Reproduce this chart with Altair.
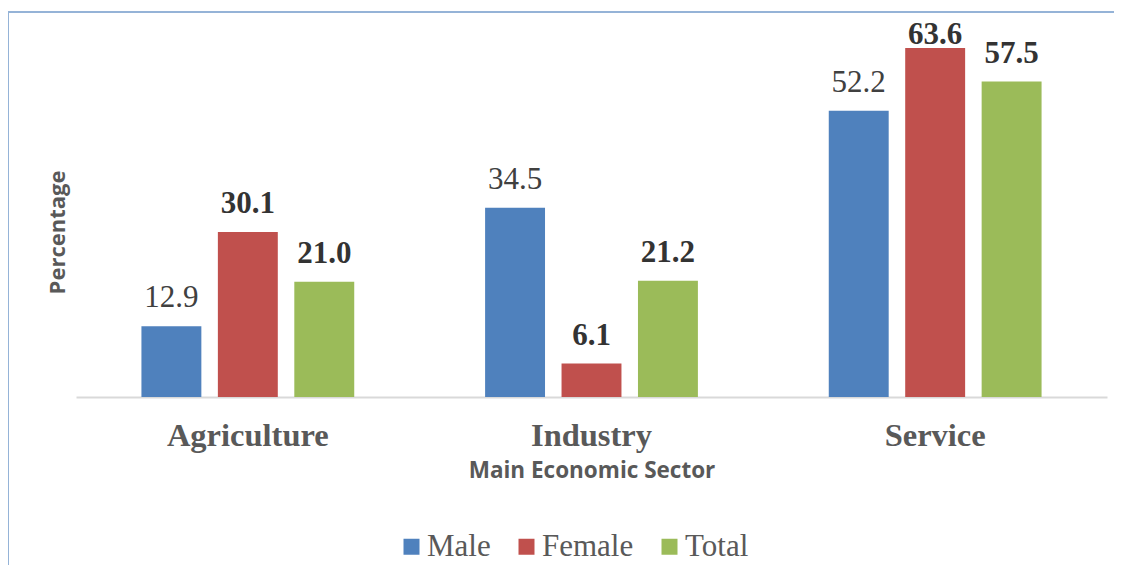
import altair as alt
import pandas as pd

sectors = ["Agriculture", "Industry", "Service"]
groups = ["Male", "Female", "Total"]
male = [12.9, 34.5, 52.2]
female = [30.1, 6.1, 63.6]
total = [21.0, 21.2, 57.5]
colors = ["#4F81BD", "#C0504D", "#9BBB59"]

rows = []
for i, s in enumerate(sectors):
    for g, vals in zip(groups, [male, female, total]):
        rows.append({"sector": s, "group": g, "value": vals[i], "label": f"{vals[i]:.1f}"})
df = pd.DataFrame(rows)

W, H = 1031, 384
SERIF = "Liberation Serif"
SANS = "Open Sans"

x = alt.X(
    "sector:N", sort=sectors,
    scale=alt.Scale(paddingInner=0, paddingOuter=0),
    axis=alt.Axis(
        title="Main Economic Sector", labelAngle=0,
        labelFont=SERIF, labelFontSize=32.5, labelFontWeight="bold",
        labelColor="#595959", labelBaseline="alphabetic", labelPadding=48,
        ticks=False, domainColor="#D9D9D9", domainWidth=2,
        titleFont=SANS, titleFontSize=22.5, titleFontWeight="bold",
        titleColor="#595959", titleX=515.5, titleY=80,
        titleBaseline="alphabetic", titleAlign="center",
    ),
)
xo = alt.XOffset("group:N", sort=groups,
                 scale=alt.Scale(paddingInner=0.216, paddingOuter=0.856))
yaxis = alt.Axis(
    title="Percentage", labels=False, ticks=False, domain=False, grid=False,
    titleFont=SANS, titleFontSize=22, titleFontWeight="bold",
    titleColor="#595959", titleX=-19, titleY=219, titleAngle=270,
    titleAlign="center", titleBaseline="middle",
)
y = alt.Y("value:Q", scale=alt.Scale(domain=[0, 70]), axis=yaxis, title="Percentage")
ylab = alt.Y("ly:Q", scale=alt.Scale(domain=[0, 70]), axis=yaxis, title="Percentage")
color = alt.Color(
    "group:N", sort=groups,
    scale=alt.Scale(domain=groups, range=colors),
    legend=alt.Legend(
        title=None, orient="none", direction="horizontal",
        legendX=320, legendY=518, symbolType="square", symbolSize=256,
        symbolStrokeWidth=0, symbolOpacity=1,
        labelFont=SERIF, labelFontSize=31, labelColor="#595959",
        columnPadding=20, labelOffset=0,
    ),
)

base = alt.Chart(df)
bars = base.mark_bar().encode(x=x, xOffset=xo, y=y, color=color)

labels = base.transform_calculate(ly="min(datum.value + 3.47, 64.4)")

lab_male = labels.transform_filter(alt.datum.group == "Male").mark_text(
    baseline="alphabetic", font=SERIF, fontSize=31, color="#404040",
).encode(x=x, xOffset=xo, y=ylab, text="label:N")

lab_bold = labels.transform_filter(alt.datum.group != "Male").mark_text(
    baseline="alphabetic", font=SERIF, fontSize=31,
    fontWeight="bold", color="#333333",
).encode(x=x, xOffset=xo, y=ylab, text="label:N")

frame_df = pd.DataFrame({"a": [0]})
top_border = alt.Chart(frame_df).mark_rule(color="#95B3D7", strokeWidth=2).encode(
    x=alt.value(-68), x2=alt.value(1046), y=alt.value(-1)
)
left_border = alt.Chart(frame_df).mark_rule(color="#95B3D7", strokeWidth=2).encode(
    x=alt.value(-68), y=alt.value(-1), y2=alt.value(600)
)

chart = alt.layer(bars, lab_male, lab_bold, top_border, left_border).properties(
    width=W, height=H,
    autosize=alt.AutoSizeParams(type="none"),
    padding={"left": 68, "top": 5, "right": 7, "bottom": 168},
    background="white",
).configure_view(stroke=None)

chart.save("out.html", embed_options={"renderer": "svg", "actions": False})
